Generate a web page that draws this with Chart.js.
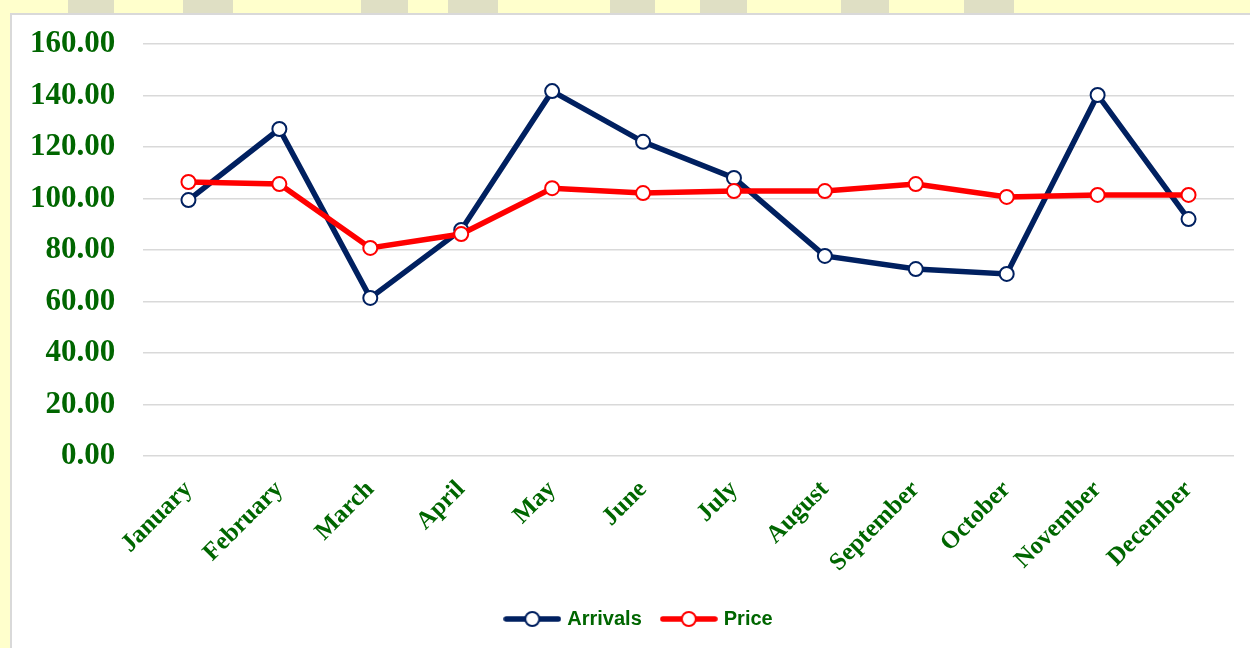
<!DOCTYPE html>
<html>
<head>
<meta charset="utf-8">
<script src="https://cdn.jsdelivr.net/npm/chart.js@4"></script>
<style>
  body { margin: 0; width: 1250px; height: 648px; overflow: hidden; background: #FFFFCC; position: relative; }
  .band { position: absolute; top: 0; height: 14px; background: #DFDFC4; }
  #box { position: absolute; left: 10px; top: 13px; width: 1240px; height: 635px; background: #fff;
         border-left: 2px solid #d9d9d9; border-top: 2px solid #d9d9d9; box-sizing: border-box; }
  #myChart { position: absolute; left: 0; top: 0; }
</style>
</head>
<body>
<div class="band" style="left:68px;width:46px"></div>
<div class="band" style="left:183px;width:50px"></div>
<div class="band" style="left:361px;width:47px"></div>
<div class="band" style="left:448px;width:50px"></div>
<div class="band" style="left:610px;width:45px"></div>
<div class="band" style="left:700px;width:47px"></div>
<div class="band" style="left:841px;width:48px"></div>
<div class="band" style="left:964px;width:50px"></div>
<div id="box"><canvas id="myChart" width="1238" height="633"></canvas></div>
<script>
// months on the x axis
let months = ['January', 'February', 'March', 'April', 'May', 'June', 'July', 'August', 'September', 'October', 'November', 'December'];
// arrivals series
let arrivals = [99.4, 127.0, 61.4, 87.8, 141.7, 122.0, 108.0, 77.7, 72.6, 70.7, 140.2, 92.0];
// price series
let price = [106.4, 105.6, 80.8, 86.2, 104.0, 102.1, 102.9, 102.9, 105.6, 100.6, 101.4, 101.4];
// y axis tick values
let yTicks = [0, 20, 40, 60, 80, 100, 120, 140, 160];

let green = '#006600';

// legend swatch: a short line with a hollow circle in the middle
function swatch(color) {
    let c = document.createElement('canvas');
    c.width = 58; c.height = 18;
    let g = c.getContext('2d');
    g.strokeStyle = color;
    g.lineWidth = 5.5;
    g.lineCap = 'round';
    g.beginPath(); g.moveTo(3, 9); g.lineTo(55, 9); g.stroke();
    g.fillStyle = '#fff';
    g.lineWidth = 2;
    g.beginPath(); g.arc(29, 9, 7, 0, Math.PI * 2); g.fill(); g.stroke();
    return c;
}

let ctx = document.getElementById('myChart').getContext('2d');

let chart = new Chart(ctx, {
    type: 'line',
    data: {
        labels: months,
        datasets: [{
            label: 'Arrivals',
            data: arrivals,
            order: 1,
            borderColor: '#002060',
            borderWidth: 5.5,
            pointRadius: 7,
            pointBorderWidth: 2,
            pointBackgroundColor: '#fff',
            pointBorderColor: '#002060',
            tension: 0
        }, {
            label: 'Price',
            data: price,
            order: 0,
            borderColor: '#FF0000',
            borderWidth: 5.5,
            pointRadius: 7,
            pointBorderWidth: 2,
            pointBackgroundColor: '#fff',
            pointBorderColor: '#FF0000',
            tension: 0
        }]
    },
    options: {
        responsive: false,
        animation: false,
        layout: { padding: { top: 29, right: 16, bottom: 9, left: 34 } },
        scales: {
            x: {
                offset: true,
                grid: { display: false },
                border: { display: false },
                ticks: {
                    color: green,
                    minRotation: 45,
                    maxRotation: 45,
                    padding: 11,
                    font: { family: 'Liberation Serif', size: 25, weight: 'bold' }
                },
                afterFit: function (scale) { scale.height = 131; }
            },
            y: {
                min: yTicks[0],
                max: yTicks[yTicks.length - 1],
                grid: { color: '#d9d9d9', lineWidth: 1.5, drawTicks: false },
                border: { display: false },
                ticks: {
                    stepSize: 20,
                    color: green,
                    // labels drawn mirrored then pulled back left of the axis (avoids label clipping)
                    mirror: true,
                    crossAlign: 'far',
                    padding: -113,
                    font: { family: 'Liberation Serif', size: 31, weight: 'bold' },
                    callback: function (v) { return v.toFixed(2); }
                },
                afterFit: function (scale) { scale.width = 97; }
            }
        },
        plugins: {
            tooltip: { enabled: false },
            legend: {
                position: 'bottom',
                labels: {
                    color: green,
                    usePointStyle: true,
                    pointStyleWidth: 50,
                    padding: 22,
                    font: { family: 'Liberation Sans', size: 20, weight: 'bold' },
                    generateLabels: function (ch) {
                        return ch.data.datasets.map(function (ds, i) {
                            return {
                                text: ds.label,
                                fontColor: green,
                                pointStyle: swatch(ds.borderColor),
                                datasetIndex: i,
                                hidden: false,
                                lineWidth: 0,
                                strokeStyle: 'transparent',
                                fillStyle: 'transparent'
                            };
                        });
                    }
                }
            }
        }
    }
});
</script>
</body>
</html>
